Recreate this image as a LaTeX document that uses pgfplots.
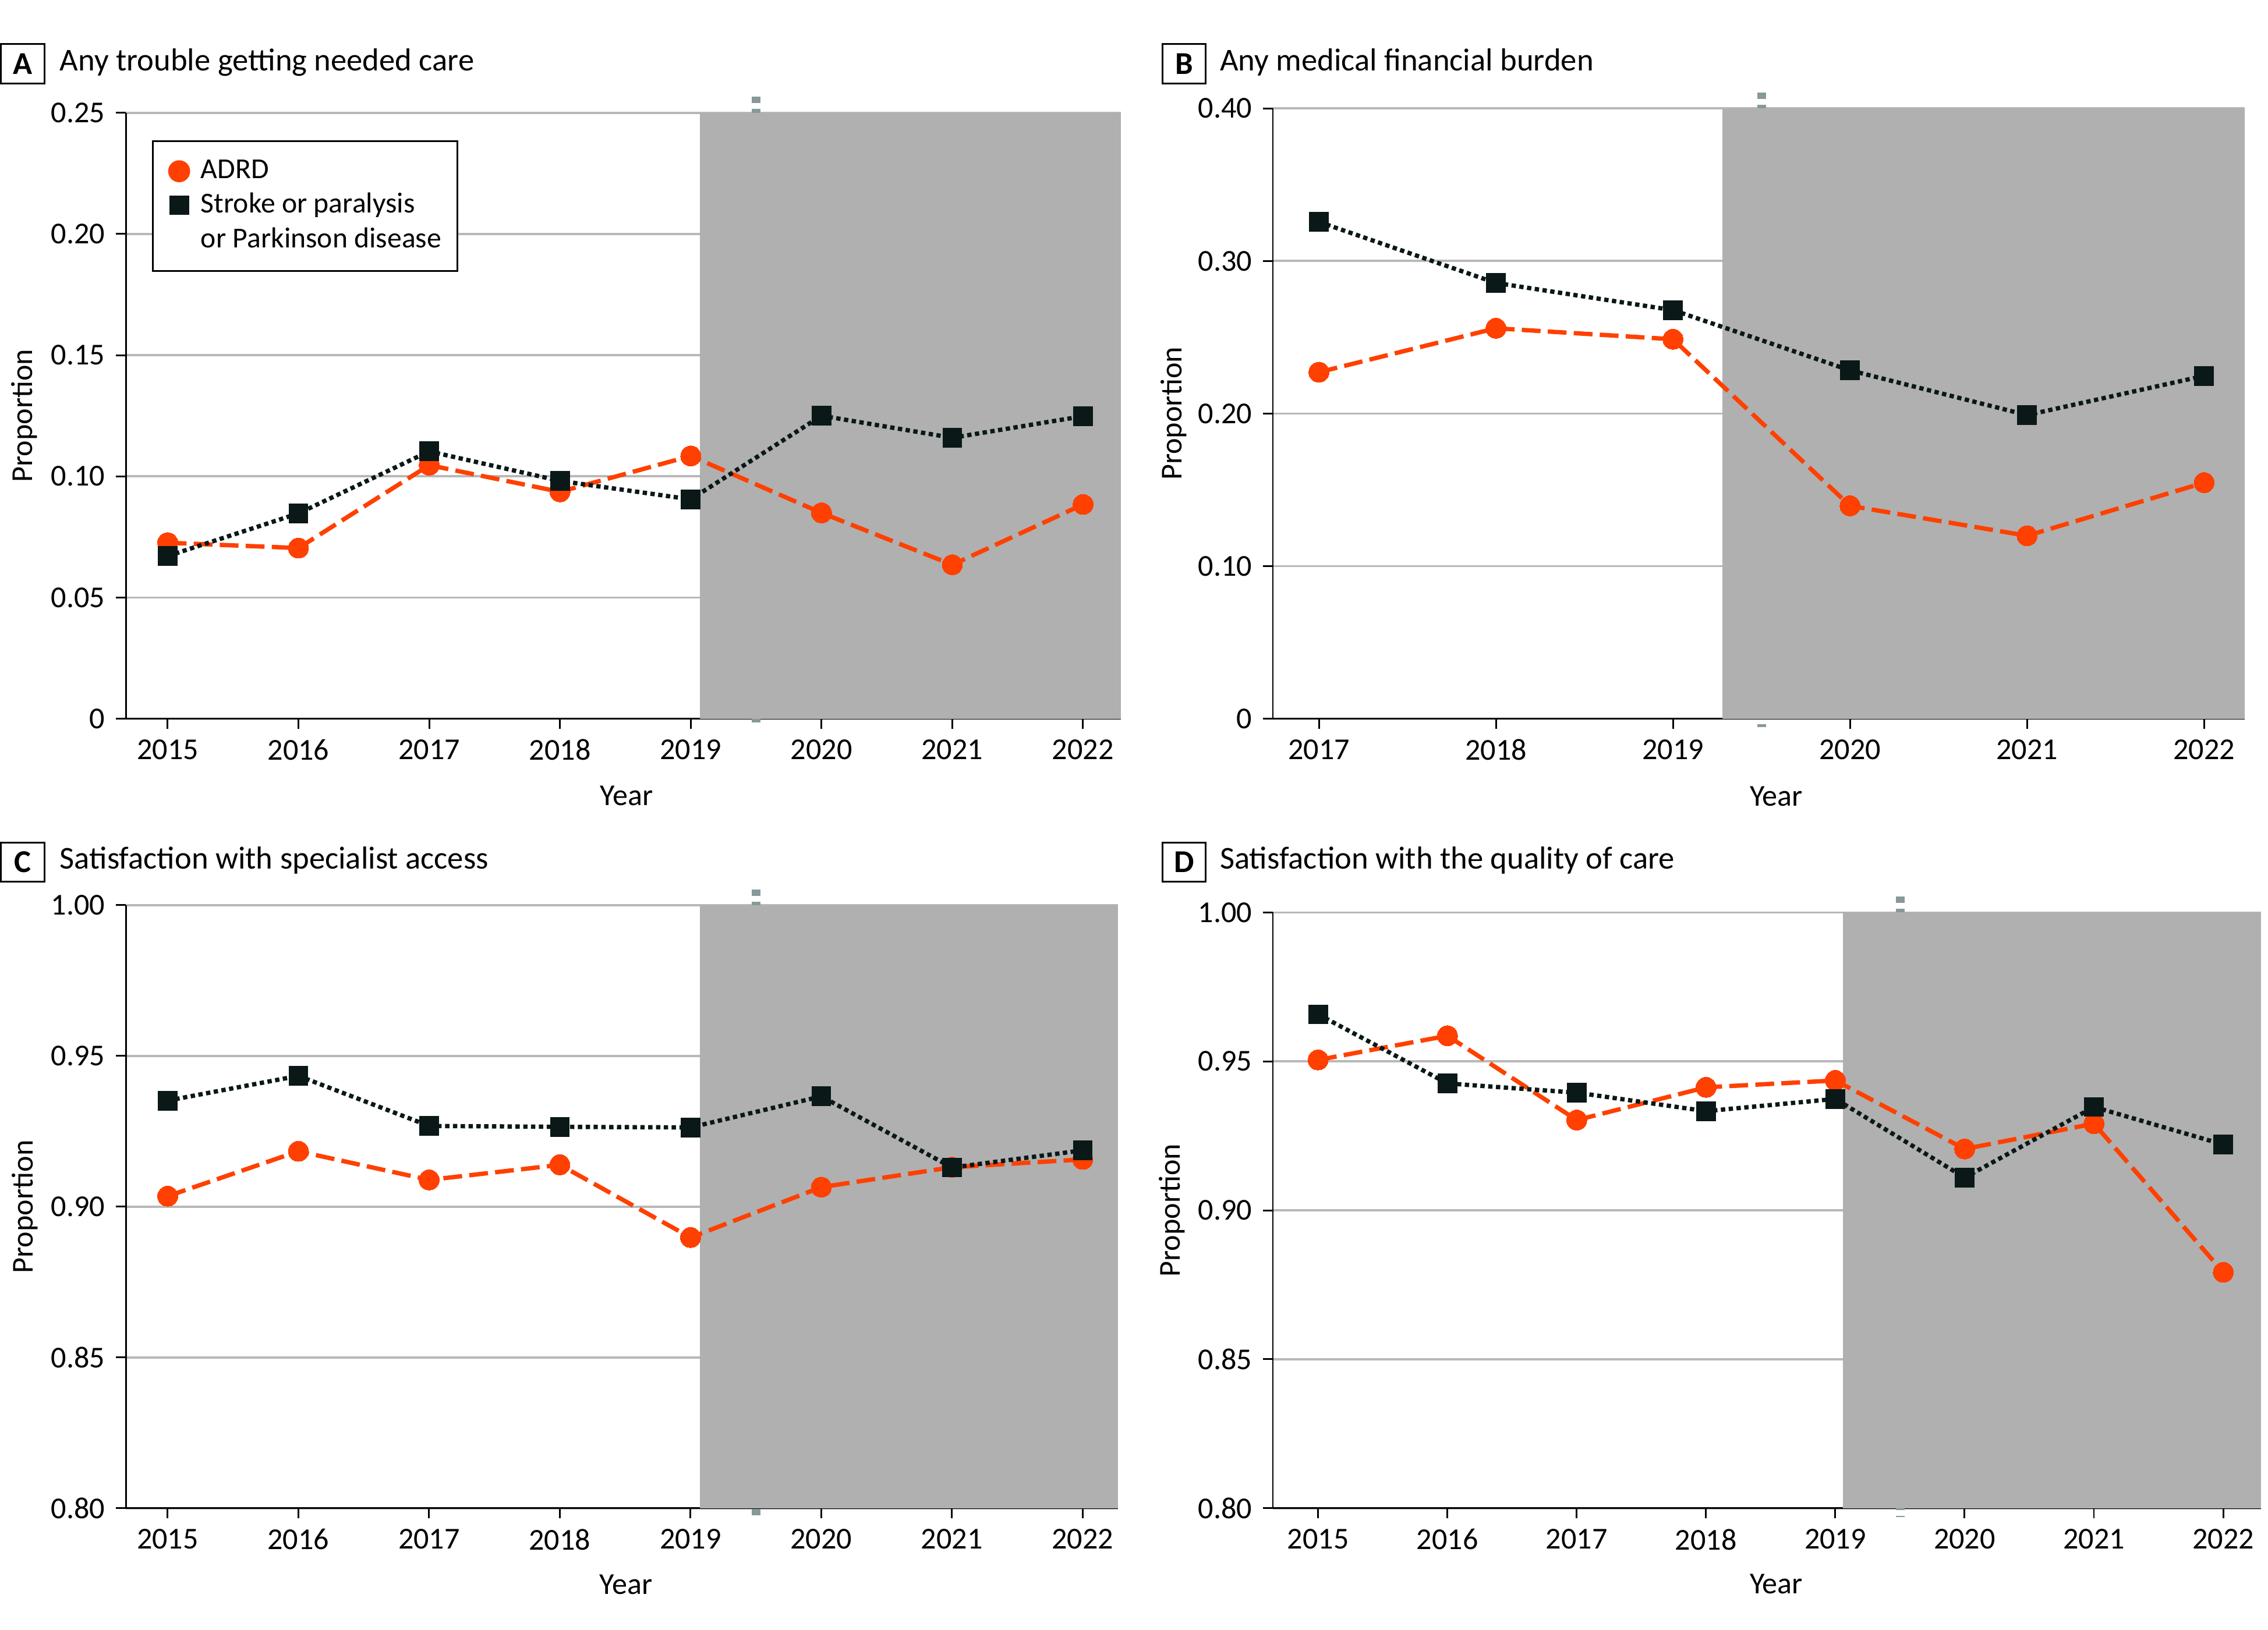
\documentclass[border=0pt]{standalone}
\usepackage{fontspec}
\setmainfont{Carlito}
\usepackage{pgfplots}
\pgfplotsset{compat=1.18}

\definecolor{adrd}{RGB}{255,64,0}
\definecolor{strokec}{RGB}{10,24,24}
\definecolor{shadecol}{RGB}{176,176,176}
\definecolor{gridcol}{RGB}{184,184,184}
\definecolor{cutcol}{RGB}{135,153,153}

\pgfplotsset{
  panel/.style={
    scale only axis,
    axis x line*=bottom, axis y line*=left,
    tick align=outside, major tick length=3.5pt,
    ymajorgrids, grid style={gridcol, line width=0.75pt},
    axis line style={line width=0.6pt, black},
    tick style={line width=0.6pt, black},
    /pgf/number format/assume math mode=true,
    x tick label style={/pgf/number format/1000 sep={}},
    xlabel={Year}, ylabel={Proportion},
    ylabel style={at={(axis description cs:-0.102,0.5)}, anchor=center},
    clip=false,
  },
  adrdline/.style={color=adrd, line width=1.5pt, dash pattern=on 6.5pt off 2.5pt,
    mark=*, mark size=3.5pt, mark options={solid, fill=adrd, draw=adrd, line width=0pt}},
  strokeline/.style={color=strokec, line width=1.5pt, dash pattern=on 1.5pt off 1.2pt,
    mark=square*, mark size=3.3pt, mark options={solid, fill=strokec, draw=strokec, line width=0pt}},
}

% pandemic-period shading with the cut marker at 2019.5
\newcommand{\pandemic}[4]{%
  \draw[cutcol, line width=3pt, dash pattern=on 2.2pt off 2pt]
    ([yshift=5.5pt]axis cs:2019.5,#4) -- ([yshift=-3pt]axis cs:2019.5,#3);
  \fill[shadecol] (axis cs:#1,#3) rectangle (axis cs:#2,#4);
}
\newcommand{\titlefont}{\fontsize{11}{13}\selectfont}

\begin{document}
\fontsize{10.5}{12.6}\selectfont
\begin{tikzpicture}
\useasboundingbox (0,0) rectangle (784pt,563.5pt);

% panel headings
\node[draw, line width=0.6pt, minimum width=15pt, minimum height=13.5pt, inner sep=0pt,
      font=\titlefont\bfseries, anchor=north west] at (0pt,548.5pt) {A};
\node[anchor=west, inner sep=0pt, font=\titlefont] at (20.5pt,542pt) {Any trouble getting needed care};
\node[draw, line width=0.6pt, minimum width=15pt, minimum height=13.5pt, inner sep=0pt,
      font=\titlefont\bfseries, anchor=north west] at (401.5pt,548.5pt) {B};
\node[anchor=west, inner sep=0pt, font=\titlefont] at (421.5pt,542pt) {Any medical financial burden};
\node[draw, line width=0.6pt, minimum width=15pt, minimum height=13.5pt, inner sep=0pt,
      font=\titlefont\bfseries, anchor=north west] at (0pt,272.5pt) {C};
\node[anchor=west, inner sep=0pt, font=\titlefont] at (20.5pt,266pt) {Satisfaction with specialist access};
\node[draw, line width=0.6pt, minimum width=15pt, minimum height=13.5pt, inner sep=0pt,
      font=\titlefont\bfseries, anchor=north west] at (401.5pt,272.5pt) {D};
\node[anchor=west, inner sep=0pt, font=\titlefont] at (421.5pt,266pt) {Satisfaction with the quality of care};

% ---------------- A ----------------
\begin{axis}[panel, at={(43.5pt,315pt)}, anchor=south west,
  width=344pt, height=209.5pt,
  xmin=2014.68, xmax=2022.29, ymin=0, ymax=0.25,
  xtick={2015,...,2022},
  ytick={0,0.05,0.10,0.15,0.20,0.25},
  yticklabels={0,0.05,0.10,0.15,0.20,0.25},
  xlabel style={at={(axis description cs:0.503,-0.127)}, anchor=center},
  legend style={at={(axis description cs:0.026,0.955)}, anchor=north west,
    draw=black, line width=0.6pt, fill=white, inner xsep=3.5pt, inner ysep=4.5pt,
    row sep=-0.5pt, nodes={inner sep=2pt}, font=\fontsize{10}{12}\selectfont,
    /tikz/every odd column/.append style={column sep=2pt}},
  legend cell align=left,
  legend image code/.code={\draw[#1] plot coordinates {(0.2cm,0cm)};},
]
\pandemic{2019.07}{2022.29}{0}{0.25}
\addplot[adrdline, forget plot] coordinates {
  (2015,0.0726) (2016,0.0704) (2017,0.1046) (2018,0.0936)
  (2019,0.1084) (2020,0.0849) (2021,0.0635) (2022,0.0884)};
\addplot[strokeline, forget plot] coordinates {
  (2015,0.0671) (2016,0.0847) (2017,0.1103) (2018,0.0981)
  (2019,0.0905) (2020,0.1250) (2021,0.1159) (2022,0.1248)};
\addlegendimage{only marks, mark=*, mark size=3.5pt, color=adrd, fill=adrd}
\addlegendentry{ADRD}
\addlegendimage{only marks, mark=square*, mark size=3.1pt, color=strokec, fill=strokec}
\addlegendentry{Stroke or paralysis}
\addlegendimage{empty legend}
\addlegendentry{or Parkinson disease}
\end{axis}

% ---------------- B ----------------
\begin{axis}[panel, at={(440pt,315pt)}, anchor=south west,
  width=336pt, height=211pt,
  xmin=2016.74, xmax=2022.23, ymin=0, ymax=0.40,
  xtick={2017,...,2022},
  ytick={0,0.10,0.20,0.30,0.40},
  yticklabels={0,0.10,0.20,0.30,0.40},
  xlabel style={at={(axis description cs:0.518,-0.127)}, anchor=center},
]
\pandemic{2019.28}{2022.23}{0}{0.40}
\addplot[adrdline] coordinates {
  (2017,0.2271) (2018,0.2559) (2019,0.2487)
  (2020,0.1395) (2021,0.1199) (2022,0.1547)};
\addplot[strokeline] coordinates {
  (2017,0.3256) (2018,0.2856) (2019,0.2678)
  (2020,0.2283) (2021,0.1990) (2022,0.2247)};
\end{axis}

% ---------------- C ----------------
\begin{axis}[panel, at={(43.5pt,42pt)}, anchor=south west,
  width=343pt, height=208.5pt,
  xmin=2014.68, xmax=2022.27, ymin=0.80, ymax=1.00,
  xtick={2015,...,2022},
  ytick={0.80,0.85,0.90,0.95,1.00},
  yticklabels={0.80,0.85,0.90,0.95,1.00},
  xlabel style={at={(axis description cs:0.504,-0.127)}, anchor=center},
]
\pandemic{2019.07}{2022.27}{0.80}{1.00}
\addplot[adrdline] coordinates {
  (2015,0.9035) (2016,0.9184) (2017,0.9089) (2018,0.9139)
  (2019,0.8898) (2020,0.9065) (2021,0.9131) (2022,0.9157)};
\addplot[strokeline] coordinates {
  (2015,0.9352) (2016,0.9434) (2017,0.9268) (2018,0.9265)
  (2019,0.9263) (2020,0.9366) (2021,0.9130) (2022,0.9187)};
\end{axis}

% ---------------- D ----------------
\begin{axis}[panel, at={(440pt,42pt)}, anchor=south west,
  width=341.5pt, height=206pt,
  xmin=2014.65, xmax=2022.29, ymin=0.80, ymax=1.00,
  xtick={2015,...,2022},
  ytick={0.80,0.85,0.90,0.95,1.00},
  yticklabels={0.80,0.85,0.90,0.95,1.00},
  xlabel style={at={(axis description cs:0.5095,-0.127)}, anchor=center},
]
\pandemic{2019.06}{2022.29}{0.80}{1.00}
\addplot[adrdline] coordinates {
  (2015,0.9505) (2016,0.9586) (2017,0.9303) (2018,0.9413)
  (2019,0.9436) (2020,0.9206) (2021,0.9291) (2022,0.8792)};
\addplot[strokeline] coordinates {
  (2015,0.9658) (2016,0.9426) (2017,0.9395) (2018,0.9333)
  (2019,0.9374) (2020,0.9110) (2021,0.9347) (2022,0.9221)};
\end{axis}
\end{tikzpicture}
\end{document}
